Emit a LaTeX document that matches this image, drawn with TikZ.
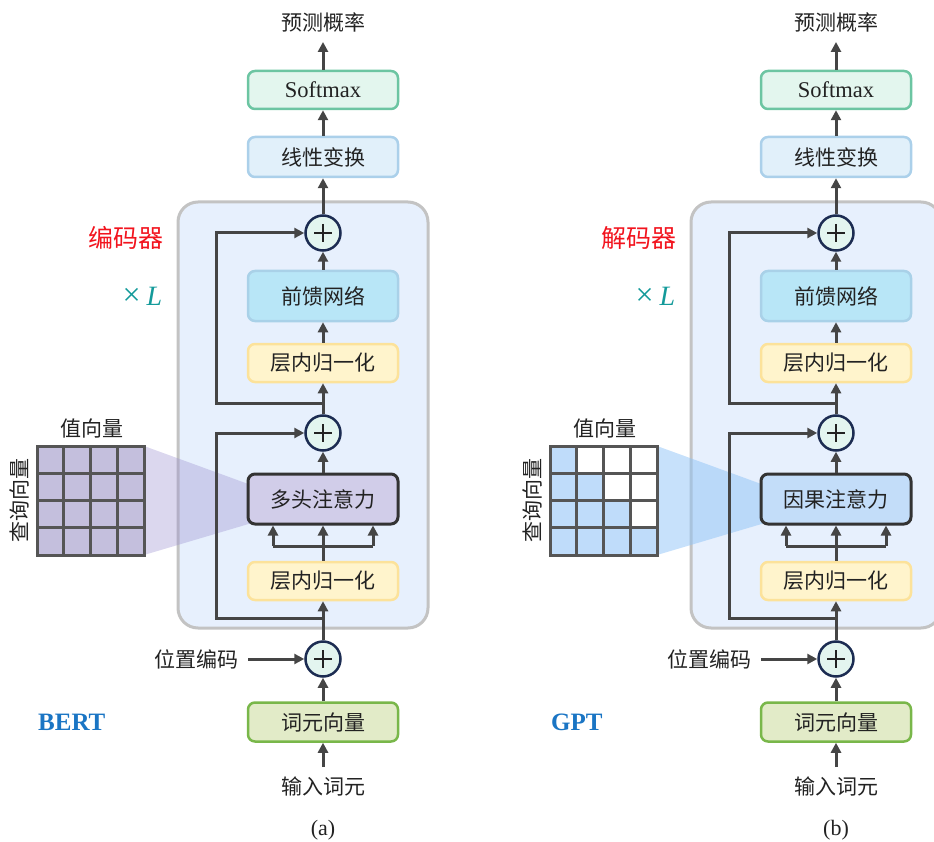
\documentclass[tikz,border=0pt]{standalone}
\usepackage{fontspec}
\setmainfont{Liberation Serif}
\newfontfamily\cjk{Noto Sans CJK SC}
\usetikzlibrary{arrows.meta}

\definecolor{ink}{HTML}{222222}
\definecolor{arrowgray}{HTML}{454545}
\definecolor{smFill}{HTML}{E3F6EE}
\definecolor{smLine}{HTML}{6CC5A2}
\definecolor{linFill}{HTML}{E1F0FA}
\definecolor{linLine}{HTML}{ABD0EA}
\definecolor{ffnFill}{HTML}{B8E6F7}
\definecolor{ffnLine}{HTML}{A9D1E8}
\definecolor{lnFill}{HTML}{FFF4CC}
\definecolor{lnLine}{HTML}{FCE29A}
\definecolor{attA}{HTML}{D1CDE9}
\definecolor{attB}{HTML}{C3DDF9}
\definecolor{attLine}{HTML}{333333}
\definecolor{embFill}{HTML}{E2EBC8}
\definecolor{embLine}{HTML}{79B74A}
\definecolor{bigFill}{HTML}{E7F0FD}
\definecolor{bigLine}{HTML}{C3C3C3}
\definecolor{addFill}{HTML}{E3F5EF}
\definecolor{addLine}{HTML}{1C2C52}
\definecolor{matA}{HTML}{C4BFDD}
\definecolor{matB}{HTML}{BFDCFA}
\definecolor{gridLine}{HTML}{555555}
\definecolor{shadeA}{HTML}{9B90D0}
\definecolor{shadeB}{HTML}{8FC3F7}
\definecolor{tagRed}{HTML}{F2141E}
\definecolor{tagTeal}{HTML}{149A9A}
\definecolor{modelBlue}{HTML}{1A75C4}

\tikzset{
  conn/.style={draw=arrowgray, line width=3pt},
  arr/.style={conn, -{Triangle[length=10pt,width=10pt]}},
  blk/.style={rounded corners=7pt, line width=2.5pt, minimum width=150pt,
    inner sep=0pt, text=ink, font=\cjk\fontsize{21}{21}\selectfont},
  smbox/.style={blk, fill=smFill, draw=smLine, minimum height=38pt,
    font=\fontsize{22.5}{22.5}\selectfont},
  linbox/.style={blk, fill=linFill, draw=linLine, minimum height=40pt},
  ffnbox/.style={blk, fill=ffnFill, draw=ffnLine, minimum height=50pt},
  lnbox/.style={blk, fill=lnFill, draw=lnLine, minimum height=38pt},
  attbox/.style={blk, draw=attLine, line width=3pt, minimum height=50pt},
  embbox/.style={blk, fill=embFill, draw=embLine, minimum height=39pt},
  addnode/.style={circle, fill=addFill, draw=addLine, line width=2.5pt,
    minimum size=35pt, inner sep=0pt, text=ink},
  txt/.style={inner sep=0pt, text=ink, font=\cjk\fontsize{21}{21}\selectfont},
  bigbox/.style={fill=bigFill, draw=bigLine, line width=3pt, rounded corners=20pt},
  gridline/.style={draw=gridLine, line width=3pt, line cap=rect},
}

\begin{document}
\begin{tikzpicture}[x=1pt, y=-1pt]
\useasboundingbox (0,0) rectangle (934,842);
\clip (0,0) rectangle (934,842);

\foreach \s/\dx/\tag/\model/\attname/\attfill/\matfill/\shadecol/\shadeop/\tri/\cap in
  {a/0/编码器/BERT/多头注意力/attA/matA/shadeA/0.36/0/(a),
   b/513/解码器/GPT/因果注意力/attB/matB/shadeB/0.5/1/(b)}{
\begin{scope}[xshift=\dx pt]
  % stacked block container
  \draw[bigbox] (178,202) rectangle (428,628);

  % attention matrix and its projection onto the attention block
  \fill[\shadecol, opacity=\shadeop] (144,446) -- (262,489) -- (262,520) -- (144,555) -- cycle;
  \foreach \i in {0,...,3}{
    \foreach \j in {0,...,3}{
      \ifnum\numexpr\tri*(\j-\i)\relax>0
        \fill[white] (37+\j*26.75,446+\i*27.25) rectangle (37+\j*26.75+26.75,446+\i*27.25+27.25);
      \else
        \fill[\matfill] (37+\j*26.75,446+\i*27.25) rectangle (37+\j*26.75+26.75,446+\i*27.25+27.25);
      \fi
    }
  }
  \foreach \k in {0,...,4}{
    \draw[gridline] (37+\k*26.75,446) -- (37+\k*26.75,555);
    \draw[gridline] (37,446+\k*27.25) -- (144,446+\k*27.25);
  }
  \node[txt] (vlab\s) at (92,428) {值向量};
  \node[txt, rotate=90] (qlab\s) at (19,500) {查询向量};

  % blocks
  \node[smbox] (sm\s) at (323,90) {Softmax};
  \node[linbox] (lin\s) at (323,157) {线性变换};
  \node[addnode] (addtop\s) at (323,233) {};
  \node[ffnbox] (ffn\s) at (323,296) {前馈网络};
  \node[lnbox] (lntop\s) at (323,363) {层内归一化};
  \node[addnode] (addmid\s) at (323,433) {};
  \node[attbox, fill=\attfill] (att\s) at (323,499) {\attname};
  \node[lnbox] (lnbot\s) at (323,581) {层内归一化};
  \node[addnode] (addbot\s) at (323,659) {};
  \node[embbox] (emb\s) at (323,722) {词元向量};

  % texts
  \node[txt] (out\s) at (323,22) {预测概率};
  \node[txt] (inp\s) at (323,786) {输入词元};
  \node[txt] (pos\s) at (196,659) {位置编码};
  \node[txt, font=\fontsize{22}{22}\selectfont] (cap\s) at (323,830) {\cap};
  \node[txt, text=tagRed, font=\cjk\fontsize{25}{25}\selectfont] (tag\s) at (125.5,238) {\tag};
  \node[txt, text=tagTeal, font=\fontsize{28}{28}\selectfont] (rep\s) at (142.5,296) {{\fontsize{32}{32}\selectfont ×}\hspace{6pt}\textit{L}};
  \node[txt, anchor=west, text=modelBlue, font=\bfseries\fontsize{25}{25}\selectfont] (model\s) at (38,722) {\model};

  % branch points of the residual paths and the attention fork
  \coordinate (brtop\s) at (323,403);
  \coordinate (kntop\s) at (216,403);
  \coordinate (brbot\s) at (323,618);
  \coordinate (knbot\s) at (216,618);
  \coordinate (fl\s) at (273,546);
  \coordinate (fr\s) at (373,546);

  % main flow
  \draw[arr, shorten <=9pt] (inp\s) -- (emb\s);
  \draw[arr] (emb\s) -- (addbot\s);
  \draw[arr, shorten <=10pt] (pos\s) -- (addbot\s);
  \draw[arr] (addbot\s) -- (lnbot\s);
  \draw[arr] (lnbot\s) -- (att\s);
  \draw[conn] (fl\s) -- (fr\s);
  \draw[arr] (fl\s) -- (fl\s |- att\s.south);
  \draw[arr] (fr\s) -- (fr\s |- att\s.south);
  \draw[arr] (att\s) -- (addmid\s);
  \draw[arr] (addmid\s) -- (lntop\s);
  \draw[arr] (lntop\s) -- (ffn\s);
  \draw[arr] (ffn\s) -- (addtop\s);
  \draw[arr] (addtop\s) -- (lin\s);
  \draw[arr] (lin\s) -- (sm\s);
  \draw[arr, shorten >=10pt] (sm\s) -- (out\s);

  % residual connections
  \draw[arr] (brbot\s) -- (knbot\s) |- (addmid\s);
  \draw[arr] (brtop\s) -- (kntop\s) |- (addtop\s);

  % plus signs
  \foreach \n in {addtop,addmid,addbot}{
    \draw[draw=ink, line width=2pt] (\n\s.center) ++(-9,0) -- ++(18,0);
    \draw[draw=ink, line width=2pt] (\n\s.center) ++(0,-9) -- ++(0,18);
  }
\end{scope}
}
\end{tikzpicture}
\end{document}
